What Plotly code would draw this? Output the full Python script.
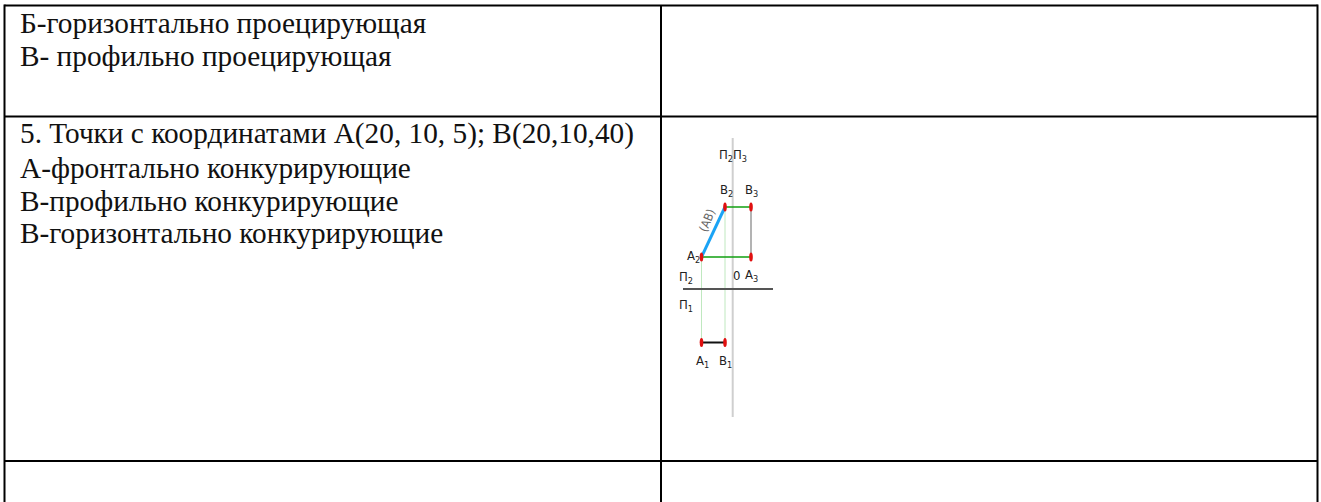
# -*- coding: utf-8 -*-
import plotly.graph_objects as go

W, H = 1321, 502

# строки текста в левой колонке
TEXT_LINES = [
    'Б-горизонтально проецирующая',
    'В- профильно проецирующая',
    '5. Точки с координатами А(20, 10, 5); В(20,10,40)',
    'А-фронтально конкурирующие',
    'В-профильно конкурирующие',
    'В-горизонтально конкурирующие',
]
TEXT_Y = [23, 56, 133, 168, 201, 233]

# сетка таблицы
GRID_V = [4.5, 661, 1317.5]
GRID_H = [5.5, 116.5, 461]

# чертёж: проекции точек
A2 = (701.5, 257)
B2 = (725, 207)
B3 = (751, 207)
A3 = (751, 257)
A1 = (701.5, 342.5)
B1 = (725, 342.5)
POINTS = [A2, B2, B3, A3, A1, B1]

AXIS_V_X = [732.7, 732.7]
AXIS_V_Y = [138, 417]
AXIS_H_X = [683, 773]
AXIS_H_Y = [289, 289]

LABELS = [
    ('П<sub>2</sub>', 726, 155), ('П<sub>3</sub>', 740, 155),
    ('В<sub>2</sub>', 726, 190), ('В<sub>3</sub>', 751, 190),
    ('А<sub>2</sub>', 693, 256), ('П<sub>2</sub>', 686, 277),
    ('0', 736, 275), ('А<sub>3</sub>', 751, 275),
    ('П<sub>1</sub>', 686, 305),
    ('А<sub>1</sub>', 702, 361), ('В<sub>1</sub>', 725, 361),
]

LABEL_FONT = 'DejaVu Sans Condensed, DejaVu Sans'


def segment(fig, p, q, color, width):
    fig.add_trace(go.Scatter(x=[p[0], q[0]], y=[p[1], q[1]], mode='lines',
                             line=dict(color=color, width=width),
                             hoverinfo='skip', showlegend=False))


fig = go.Figure()

# тонкие линии связи
segment(fig, A2, A1, '#bfe8bf', 1)
segment(fig, B2, B1, '#bfe8bf', 1)

# оси
fig.add_trace(go.Scatter(x=AXIS_V_X, y=AXIS_V_Y, mode='lines', line=dict(color='#cfcfcf', width=2),
                         hoverinfo='skip', showlegend=False))
fig.add_trace(go.Scatter(x=AXIS_H_X, y=AXIS_H_Y, mode='lines', line=dict(color='#555555', width=2),
                         hoverinfo='skip', showlegend=False))

segment(fig, A2, A3, '#0f9f0f', 1.5)
segment(fig, B2, B3, '#0f9f0f', 1.5)
segment(fig, B3, A3, '#9a9a9a', 1.5)
segment(fig, A2, B2, '#1aa3f5', 3)
segment(fig, A1, B1, '#111111', 2)

shapes = []
for x in GRID_V:
    shapes.append(dict(type='line', x0=x, x1=x, y0=GRID_H[0] - 1 if x != GRID_V[1] else GRID_H[0], y1=H,
                       line=dict(color='black', width=2)))
for y in GRID_H:
    shapes.append(dict(type='line', x0=GRID_V[0], x1=GRID_V[2], y0=y, y1=y,
                       line=dict(color='black', width=2)))
# красные точки сжаты по горизонтали, как на исходном рисунке
for x, y in POINTS:
    shapes.append(dict(type='circle', x0=x - 1.8, x1=x + 1.8, y0=y - 4.5, y1=y + 4.5,
                       fillcolor='#e01010', line=dict(width=0), layer='above'))

annotations = []
for line, y in zip(TEXT_LINES, TEXT_Y):
    annotations.append(dict(x=18, y=y, text=line, showarrow=False, xanchor='left', yanchor='middle',
                            font=dict(family='Liberation Serif', size=29.3, color='#111111')))
for text, x, y in LABELS:
    annotations.append(dict(x=x, y=y, text=text, showarrow=False,
                            font=dict(family=LABEL_FONT, size=13, color='#222222')))
annotations.append(dict(x=707, y=221, text='(АВ)', showarrow=False, textangle=-68,
                        font=dict(family=LABEL_FONT, size=12, color='#666666')))

fig.update_layout(
    width=W, height=H,
    margin=dict(l=0, r=0, t=0, b=0),
    paper_bgcolor='white', plot_bgcolor='white',
    xaxis=dict(range=[0, W], visible=False, fixedrange=True),
    yaxis=dict(range=[H, 0], visible=False, fixedrange=True),
    shapes=shapes, annotations=annotations, showlegend=False,
)

fig.write_html('out.html', config=dict(displayModeBar=False),
               post_script="document.body.style.margin='0';document.body.style.overflow='hidden';")
